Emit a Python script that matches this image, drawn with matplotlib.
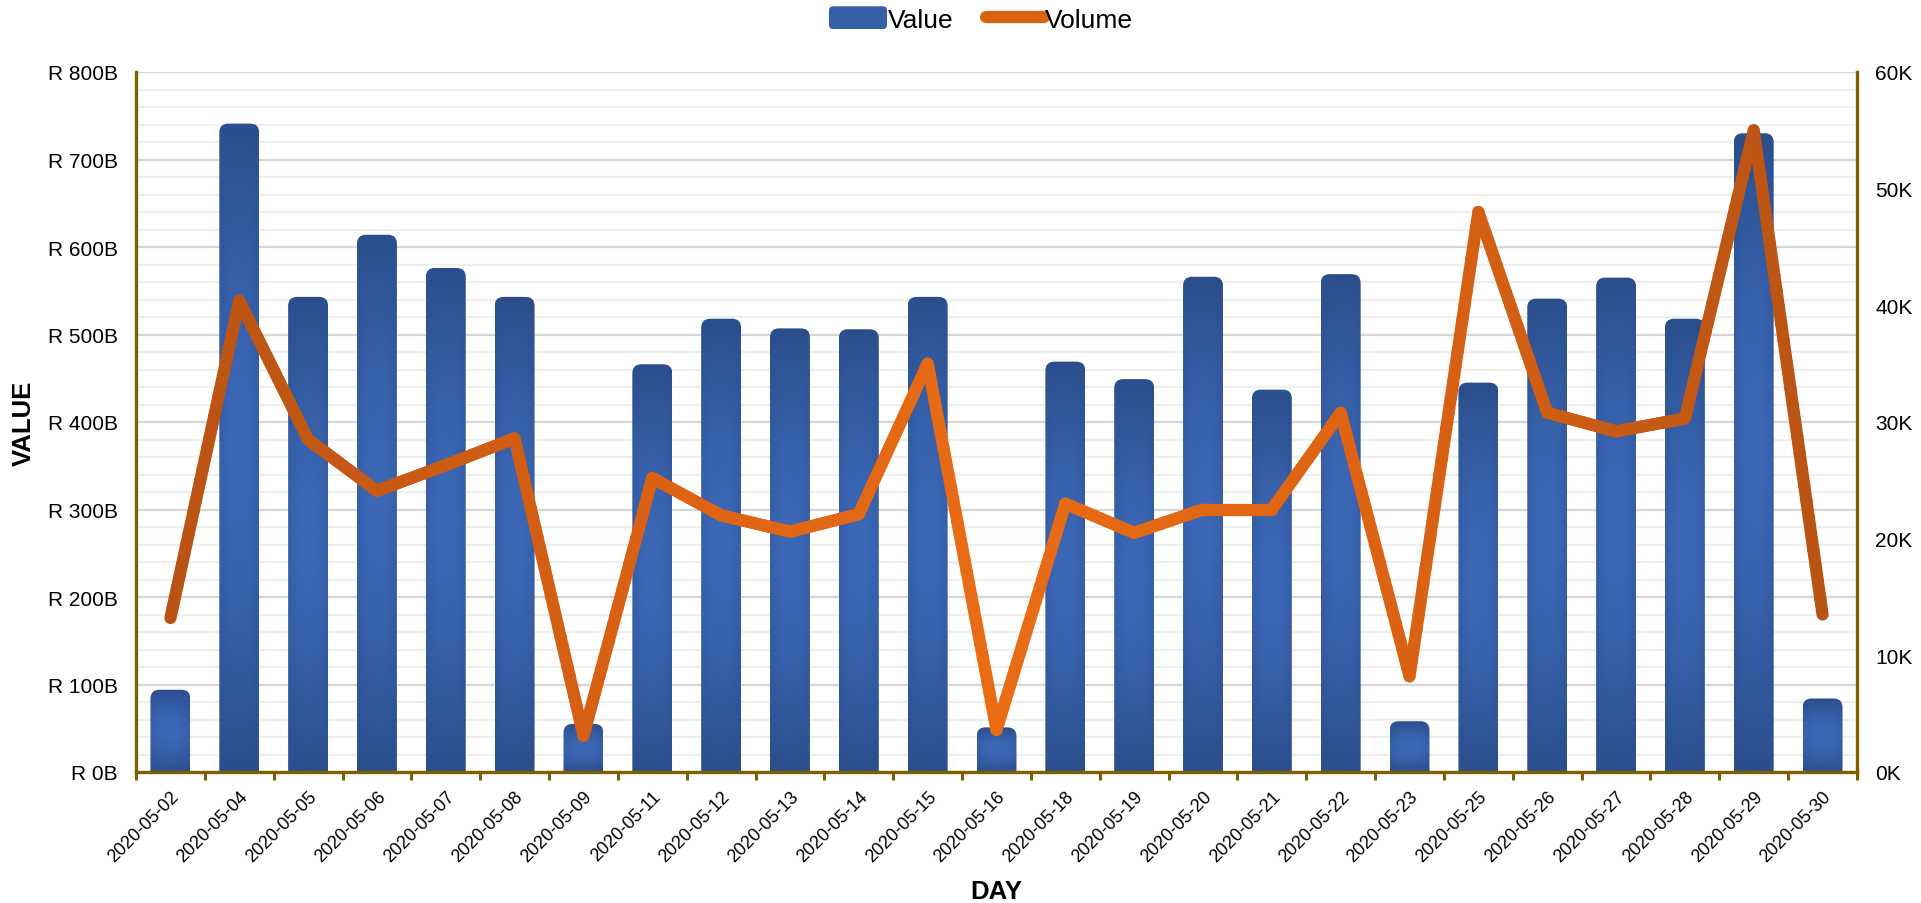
import numpy as np
import matplotlib
matplotlib.use("Agg")
import matplotlib.pyplot as plt
from matplotlib.patches import FancyBboxPatch
from matplotlib.lines import Line2D
from matplotlib.collections import LineCollection
from matplotlib.colors import LinearSegmentedColormap, to_rgb
from matplotlib.ticker import MultipleLocator, FuncFormatter
from matplotlib.legend_handler import HandlerPatch

plt.rcParams["font.family"] = ["Liberation Sans", "DejaVu Sans"]

# ---------------- data ----------------
days = ["2020-05-02", "2020-05-04", "2020-05-05", "2020-05-06", "2020-05-07",
        "2020-05-08", "2020-05-09", "2020-05-11", "2020-05-12", "2020-05-13",
        "2020-05-14", "2020-05-15", "2020-05-16", "2020-05-18", "2020-05-19",
        "2020-05-20", "2020-05-21", "2020-05-22", "2020-05-23", "2020-05-25",
        "2020-05-26", "2020-05-27", "2020-05-28", "2020-05-29", "2020-05-30"]
value_b = [94, 741, 543, 614, 576, 543, 55, 466, 518, 507, 506, 543, 51, 469,
           449, 566, 437, 569, 58, 445, 541, 565, 518, 730, 84]
volume_k = [13.2, 40.4, 28.5, 24.1, 26.3, 28.6, 3.1, 25.2, 22.0, 20.6, 22.1, 35.0,
            3.6, 23.0, 20.5, 22.5, 22.5, 30.8, 8.2, 48.0, 30.8, 29.2, 30.3, 55.0, 13.5]
left_ticks = [0, 100, 200, 300, 400, 500, 600, 700, 800]
right_ticks = [0, 10, 20, 30, 40, 50, 60]

# ---------------- style ----------------
W, H = 1921, 904
AX_L, AX_R, AX_T, AX_B = 136, 1857, 73, 773
SPINE = "#7f6000"
BAR_DARK = np.array(to_rgb("#2b4e8c"))
BAR_LIGHT = np.array(to_rgb("#3c68b7"))
line_cmap = LinearSegmentedColormap.from_list(
    "vol", [(0.0, "#b95314"), (0.3, "#dc6213"), (0.5, "#e96c15"),
            (0.72, "#de6413"), (1.0, "#b95314")])

fig = plt.figure(figsize=(W / 100, H / 100), dpi=100)
ax = fig.add_axes([AX_L / W, 1 - AX_B / H, (AX_R - AX_L) / W, (AX_B - AX_T) / H])
ax2 = ax.twinx()

n = len(days)
x = np.arange(n)
ax.set_xlim(-0.5, n - 0.5)
ax.set_ylim(0, 800)
ax2.set_ylim(0, 60)

# grid
ax.set_yticks(left_ticks)
ax.yaxis.set_minor_locator(MultipleLocator(20))
ax.grid(which="major", axis="y", color="#d6d6d6", lw=1.6, zorder=0)
ax.grid(which="minor", axis="y", color="#efefef", lw=1.6, zorder=0)
ax.set_axisbelow(True)

# bars (gradient-filled, rounded tops)
bw = 0.58
bars = ax.bar(x, value_b, width=bw, color="none", edgecolor="none", zorder=2)
px_x = (AX_R - AX_L) / n          # px per x unit
px_y = (AX_B - AX_T) / 800.0      # px per y unit
aspect = px_x / px_y
r = 9 / px_x
ny, nx = 240, 40
yy = np.linspace(0, 1, ny)[:, None]
xx = np.linspace(0, 1, nx)[None, :]
by = 1 - np.clip(np.abs(yy - 0.5) * 2, 0, 1) ** 1.7
bx = 1 - 0.35 * (np.abs(xx - 0.5) * 2) ** 2.5
bright = by * bx
img = BAR_DARK[None, None, :] + (BAR_LIGHT - BAR_DARK)[None, None, :] * bright[:, :, None]
for rect in bars:
    x0, w, h = rect.get_x(), rect.get_width(), rect.get_height()
    patch = FancyBboxPatch((x0, -30), w, h + 30,
                           boxstyle=f"round,pad=0,rounding_size={r}",
                           mutation_aspect=aspect, facecolor="none",
                           edgecolor="none", zorder=2)
    ax.add_patch(patch)
    im = ax.imshow(img, extent=(x0, x0 + w, 0, h), origin="lower",
                   aspect="auto", zorder=2, interpolation="bilinear")
    im.set_clip_path(patch)
ax.set_xlim(-0.5, n - 0.5)
ax.set_ylim(0, 800)

# volume line with horizontal colour gradient
pts = np.column_stack([x, volume_k]).astype(float)
segs, cols = [], []
sub = 30
for i in range(n - 1):
    p0, p1 = pts[i], pts[i + 1]
    for k in range(sub):
        a, b = k / sub, (k + 1) / sub
        q0 = p0 + (p1 - p0) * a
        q1 = p0 + (p1 - p0) * b
        segs.append([q0, q1])
        cols.append(line_cmap(((q0[0] + q1[0]) / 2) / (n - 1)))
lc = LineCollection(segs, colors=cols, linewidths=8.8, capstyle="round",
                    joinstyle="round", zorder=3)
ax2.add_collection(lc)
ax2.set_xlim(-0.5, n - 0.5)

# axes styling
for a in (ax, ax2):
    for s in a.spines.values():
        s.set_visible(False)
ax.spines["left"].set_visible(True)
ax.spines["bottom"].set_visible(True)
ax2.spines["right"].set_visible(True)
for s in (ax.spines["left"], ax.spines["bottom"], ax2.spines["right"]):
    s.set_color(SPINE)
    s.set_linewidth(2.4)

ax.yaxis.set_major_formatter(FuncFormatter(lambda v, p: f"R {int(v)}B"))
ax.tick_params(axis="y", which="both", length=0, pad=13, labelsize=15)
ax2.set_yticks(right_ticks)
ax2.yaxis.set_major_formatter(FuncFormatter(lambda v, p: f"{int(v)}K"))
ax2.tick_params(axis="y", length=0, pad=13, labelsize=15)

ax.set_xticks(x)
ax.set_xticklabels(days, rotation=45, ha="right", va="top", rotation_mode="anchor")
ax.tick_params(axis="x", which="major", length=0, pad=11, labelsize=13)
ax.set_xticks(np.arange(n + 1) - 0.5, minor=True)
ax.tick_params(axis="x", which="minor", length=6, width=2.2, color=SPINE,
               direction="out")

ax.set_ylabel("VALUE", fontsize=18.5, fontweight="bold", va="center")
ax.yaxis.set_label_coords((24 - AX_L) / (AX_R - AX_L), 0.5)
ax.set_xlabel("DAY", fontsize=18.5, fontweight="bold", va="center")
ax.xaxis.set_label_coords(0.5, (AX_B - 892) / (AX_B - AX_T))

# legend
class RoundPatchHandler(HandlerPatch):
    def create_artists(self, legend, orig_handle, xdescent, ydescent, width,
                       height, fontsize, trans):
        p = FancyBboxPatch((-xdescent, -ydescent), width, height,
                           boxstyle="round,pad=0,rounding_size=3",
                           facecolor="#3460a8", edgecolor="none", transform=trans)
        return [p]

val_handle = FancyBboxPatch((0, 0), 1, 1, facecolor="#3460a8")
vol_handle = Line2D([], [], color="#d9640f", lw=8.8, solid_capstyle="round")
fig.legend([val_handle, vol_handle], ["Value", "Volume"], ncol=2,
           loc="center", bbox_to_anchor=(981 / W, 1 - 20 / H), frameon=False,
           fontsize=19, handlelength=2.2, handleheight=0.95, handletextpad=0.05,
           columnspacing=1.2, borderpad=0,
           handler_map={FancyBboxPatch: RoundPatchHandler()})

fig.savefig("out.png", dpi=100)
